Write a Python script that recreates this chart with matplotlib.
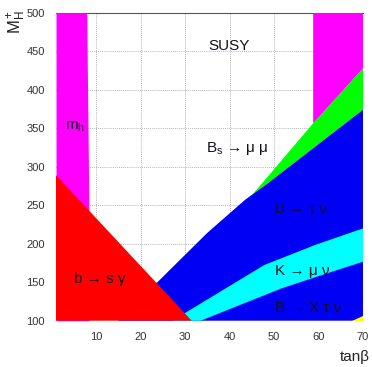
import matplotlib
matplotlib.use("Agg")
import matplotlib.pyplot as plt

plt.rcParams["font.family"] = ["Liberation Sans", "DejaVu Sans"]
plt.rcParams["mathtext.fontset"] = "custom"
plt.rcParams["mathtext.rm"] = "Liberation Sans"
plt.rcParams["mathtext.it"] = "Liberation Sans:italic"

# exclusion regions in the (tan beta, M_H+) plane
mh_left_y = [240, 500]
mh_left_x = [8.4, 7.9]

bsg_x = [1, 31.5]
bsg_y = [289, 100]

btaunu_x = [23.8, 34.9, 43.5, 48.5, 70]
btaunu_y = [150, 213.5, 257, 278, 374]

bsmumu_x = [45.0, 47.4, 58.8, 70]
bsmumu_y = [263, 279, 356.4, 427.8]

kmunu_up_x = [27.1, 30.0, 47.8, 59.2, 70]
kmunu_up_y = [100, 110, 172.3, 198.3, 219.9]
kmunu_lo_x = [33.5, 51.7, 63.0, 70]
kmunu_lo_y = [100, 142, 163.6, 176.6]

mh_right_x = [58.8, 70]
mh_right_y = [356.4, 427.8]

bxtaunu_x = [67.6, 70, 70]
bxtaunu_y = [100, 100, 106]

x_ticks = [10, 20, 30, 40, 50, 60, 70]
y_ticks = [100, 150, 200, 250, 300, 350, 400, 450, 500]

fig = plt.figure(figsize=(3.72, 3.67), dpi=100)
ax = fig.add_axes([56 / 372, 1 - 320.7 / 367, (363 - 56) / 372, (320.7 - 12.7) / 367])
ax.set_xlim(1, 70)
ax.set_ylim(100, 500)

# grid first, fills go over it
for gx in [10, 20, 30, 40, 50, 60]:
    ax.axvline(gx, color="#9a9a9a", lw=0.6, ls=(0, (1, 1.5)), zorder=0)
for gy in [150, 200, 250, 300, 350, 400, 450]:
    ax.axhline(gy, color="#9a9a9a", lw=0.6, ls=(0, (1, 1.5)), zorder=0)

# m_h, left
ax.fill_betweenx([100] + mh_left_y, [1, 1, 1], [mh_left_x[0]] + mh_left_x,
                 color="#ff00ff", lw=0, zorder=1)

# B_s -> mu mu (green), bounded below by the B -> tau nu edge
ax.fill(bsmumu_x + [70] + btaunu_x[3:1:-1], bsmumu_y + [btaunu_y[-1]] + btaunu_y[3:1:-1],
        color="#00ff00", lw=0, zorder=1)

# m_h, right block
ax.fill([mh_right_x[0], mh_right_x[0], 70, 70], [500, mh_right_y[0], mh_right_y[1], 500],
        color="#ff00ff", lw=0, zorder=1)

# B -> tau nu (blue), lower-left corner hidden under the red region
ax.fill([15] + btaunu_x + [70, 15], [100] + btaunu_y + [100, 100],
        color="#0000f5", lw=0, zorder=2)

# K -> mu nu (cyan band)
ax.fill(kmunu_up_x + kmunu_lo_x[::-1], kmunu_up_y + kmunu_lo_y[::-1],
        color="#00ffff", lw=0, zorder=3)

# B -> X tau nu corner
ax.fill(bxtaunu_x, bxtaunu_y, color="#ffff00", lw=0, zorder=3)

# b -> s gamma (red)
ax.fill([1] + bsg_x[1:] + [1], [bsg_y[0], bsg_y[1], 100], color="#ff0000", lw=0, zorder=4)

for side in ["left", "right", "bottom"]:
    ax.spines[side].set_visible(False)
ax.spines["top"].set_color("#555555")
ax.spines["top"].set_linewidth(0.8)
ax.spines["top"].set_zorder(0.5)

ax.set_xticks(x_ticks)
ax.set_yticks(y_ticks)
ax.tick_params(length=0, pad=8, labelsize=8, labelcolor="#333333")

txt = dict(fontsize=11, color="#111122", zorder=6)
ax.text(39.9, 451.6, "SUSY", ha="center", va="baseline", **txt)
ax.text(34.7, 319.6, r"B$_\mathregular{s}$ → μ μ", ha="left", va="baseline", **txt)
ax.text(3.0, 347.6, r"m$_\mathregular{h}$", ha="left", va="baseline", **txt)
ax.text(5.0, 149.6, "b → s γ", ha="left", va="baseline", **txt)
ax.text(50.2, 239.6, "B → τ ν", ha="left", va="baseline", **txt)
ax.text(50.2, 159.6, "K → μ ν", ha="left", va="baseline", **txt)
ax.text(50.2, 111.1, "B → X τ ν", ha="left", va="baseline", **txt)

fig.text(0.995, 1 - 357 / 367, "tanβ", ha="right", va="center", fontsize=11, color="#222222")
fig.text(17 / 372, 1 - 22 / 367, r"$\mathregular{M_H^+}$", ha="center", va="center",
         rotation=90, fontsize=12, color="#222222")

fig.savefig("out.png", dpi=100)
